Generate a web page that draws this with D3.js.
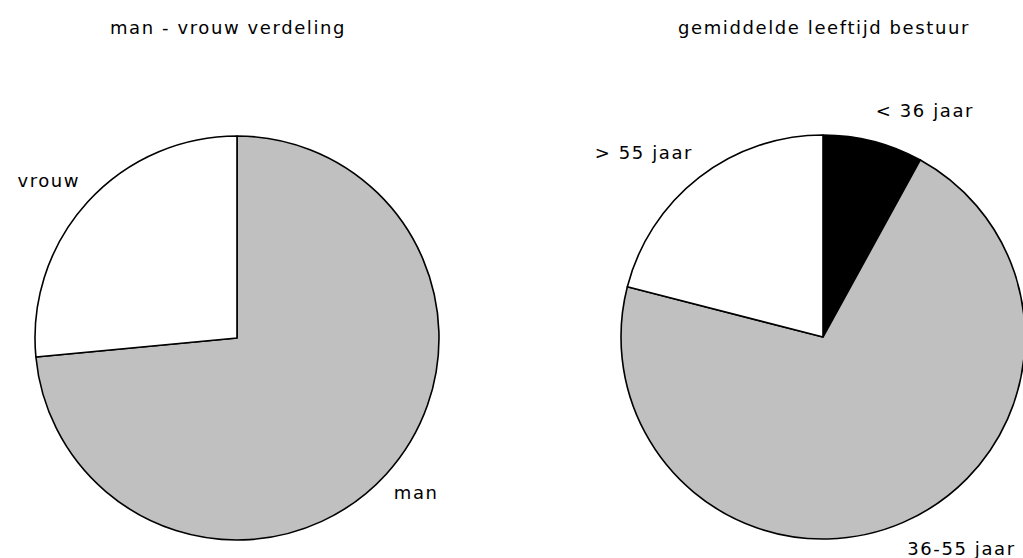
<!DOCTYPE html>
<html>
<head>
<meta charset="utf-8">
<script src="https://cdn.jsdelivr.net/npm/d3@7"></script>
<style>
  body { margin: 0; background: #fff; }
  svg { display: block; }
  text { font-family: "DejaVu Sans", Verdana, sans-serif; font-size: 18px; letter-spacing: 1.6px; fill: #000; }
</style>
</head>
<body>
<svg id="chart" width="1023" height="558"></svg>
<script>
// data
const genderLabels = ["man", "vrouw"];
const genderValues = [73.5, 26.5];
const ageLabels = ["< 36 jaar", "36-55 jaar", "> 55 jaar"];
const ageValues = [8, 71, 21];
const titles = ["man - vrouw verdeling", "gemiddelde leeftijd bestuur"];

const genderColors = ["#c0c0c0", "#ffffff"];
const ageColors = ["#000000", "#c0c0c0", "#ffffff"];

const svg = d3.select("#chart");
const radius = 202;
const labelRx = 212; // horizontale afstand label
const labelRy = 232; // verticale afstand label

// layout per taart
const panels = [
  { cx: 237, cy: 338, titleX: 228, labels: genderLabels, values: genderValues, colors: genderColors, title: titles[0] },
  { cx: 823, cy: 337, titleX: 824, labels: ageLabels, values: ageValues, colors: ageColors, title: titles[1] }
];

const pie = d3.pie().sort(null).value(d => d);
const arc = d3.arc().innerRadius(0).outerRadius(radius);
const midAngle = d => (d.startAngle + d.endAngle) / 2;

panels.forEach(p => {
  svg.append("text")
    .attr("x", p.titleX)
    .attr("y", 34)
    .attr("text-anchor", "middle")
    .text(p.title);

  const g = svg.append("g").attr("transform", `translate(${p.cx},${p.cy})`);
  const arcs = pie(p.values);

  g.selectAll("path")
    .data(arcs)
    .enter()
    .append("path")
    .attr("d", arc)
    .attr("fill", (d, i) => p.colors[i])
    .attr("stroke", "#000")
    .attr("stroke-width", 1.6)
    .attr("stroke-linejoin", "round");

  // labels buiten de taart
  g.selectAll("text.label")
    .data(arcs)
    .enter()
    .append("text")
    .attr("class", "label")
    .attr("x", d => labelRx * Math.sin(midAngle(d)))
    .attr("y", d => -labelRy * Math.cos(midAngle(d)) + 5)
    .attr("text-anchor", d => Math.sin(midAngle(d)) >= 0 ? "start" : "end")
    .text((d, i) => p.labels[i]);
});
</script>
</body>
</html>
